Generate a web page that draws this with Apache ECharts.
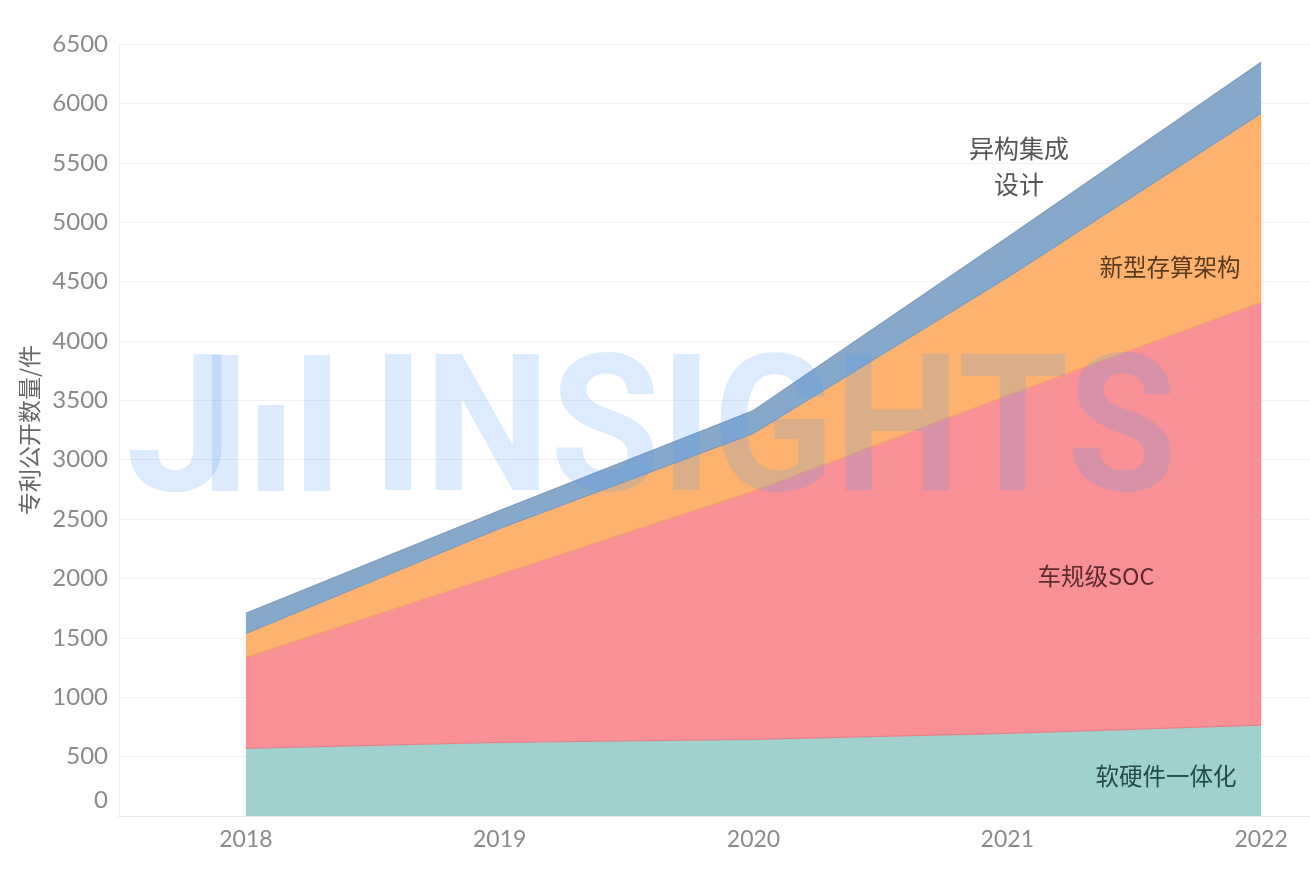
<!DOCTYPE html>
<html>
<head>
<meta charset="utf-8">
<script src="https://cdn.jsdelivr.net/npm/echarts@6/dist/echarts.min.js"></script>
<style>
  html, body { margin: 0; padding: 0; background: #fff; }
  #chart { width: 1310px; height: 872px; }
</style>
</head>
<body>
<div id="chart"></div>
<script>
// 数据
const years = ['2018', '2019', '2020', '2021', '2022'];
const softHard = [570, 620, 645, 695, 765];      // 软硬件一体化
const socAuto = [765, 1415, 2090, 2846, 3561];   // 车规级SOC
const newMemory = [202, 386, 487, 993, 1591];    // 新型存算架构
const hetero = [169, 150, 192, 336, 429];        // 异构集成设计
const yTicks = [0, 6500, 500]; // min, max, interval

const chart = echarts.init(document.getElementById('chart'));

const cjk = '"Noto Sans CJK SC", sans-serif';
const tickFont = 'Lato, "Open Sans", sans-serif';

function areaSeries(name, data, fill, line) {
  return {
    name: name,
    type: 'line',
    stack: 'total',
    data: data,
    symbol: 'none',
    lineStyle: { color: line, width: 1.2 },
    areaStyle: { color: fill, opacity: 1 },
    emphasis: { disabled: true }
  };
}

// 水印
const wmColor = 'rgba(80,155,245,0.2)';
const wm = (el) => Object.assign({ z: 100, silent: true }, el);
const watermark = [
  wm({ type: 'text', x: 126, y: 346, style: { text: 'J', font: 'bold 192px Roboto', fill: wmColor } }),
  wm({ type: 'rect', shape: { x: 212, y: 355, width: 26, height: 136 }, style: { fill: wmColor } }),
  wm({ type: 'rect', shape: { x: 258, y: 405, width: 26, height: 86 }, style: { fill: wmColor } }),
  wm({ type: 'rect', shape: { x: 304, y: 355, width: 26, height: 136 }, style: { fill: wmColor } }),
  wm({ type: 'text', x: 372, y: 346, scaleX: 0.93, style: { text: 'INSIGHTS', font: 'bold 192px Roboto', fill: wmColor } })
];

function label(x, y, text, color, size) {
  return {
    type: 'text', x: x, y: y, z: 110, silent: true,
    style: {
      text: text, fill: color, font: size + 'px ' + cjk,
      align: 'center', verticalAlign: 'middle', lineHeight: 36
    }
  };
}

const option = {
  animation: false,
  backgroundColor: '#fff',
  grid: { left: 119, top: 44, width: 1269, height: 772, outerBoundsMode: 'none', containLabel: false },
  xAxis: {
    type: 'category',
    data: years,
    boundaryGap: true,
    axisLine: { show: true, lineStyle: { color: '#e6e6e6' } },
    axisTick: { show: false },
    axisLabel: { color: '#8a8a8a', fontSize: 23, fontFamily: tickFont, margin: 12 },
    splitLine: { show: false }
  },
  yAxis: {
    type: 'value',
    min: yTicks[0],
    max: yTicks[1],
    interval: yTicks[2],
    name: '专利公开数量/件',
    nameLocation: 'middle',
    nameGap: 78,
    nameTextStyle: { color: '#666', fontSize: 23, fontFamily: cjk },
    axisLine: { show: true, lineStyle: { color: '#f2f2f2' } },
    axisTick: { show: false },
    axisLabel: {
      color: '#8a8a8a', fontSize: 24, fontFamily: tickFont, margin: 11,
      formatter: (v) => (v === 0 ? '{z|0}' : String(v)),
      rich: { z: { color: '#8a8a8a', fontSize: 24, fontFamily: tickFont, padding: [0, 0, 32, 0] } }
    },
    splitLine: { lineStyle: { color: '#f2f2f2', width: 1 } }
  },
  series: [
    areaSeries('软硬件一体化', softHard, '#A0D1CF', '#E0848B'),
    areaSeries('车规级SOC', socAuto, '#F99095', '#F5A06A'),
    areaSeries('新型存算架构', newMemory, '#FDB36F', '#8499AE'),
    areaSeries('异构集成设计', hetero, '#86A8CA', '#7D9DBE')
  ],
  graphic: watermark.concat([
    label(1019, 166, '异构集成\n设计', '#555555', 25),
    label(1170, 267, '新型存算架构', '#5b3a1c', 23.5),
    label(1096, 576, '车规级SOC', '#5e2a2c', 23.5),
    label(1166, 776, '软硬件一体化', '#244b49', 23.5)
  ])
};

chart.setOption(option);
</script>
</body>
</html>
